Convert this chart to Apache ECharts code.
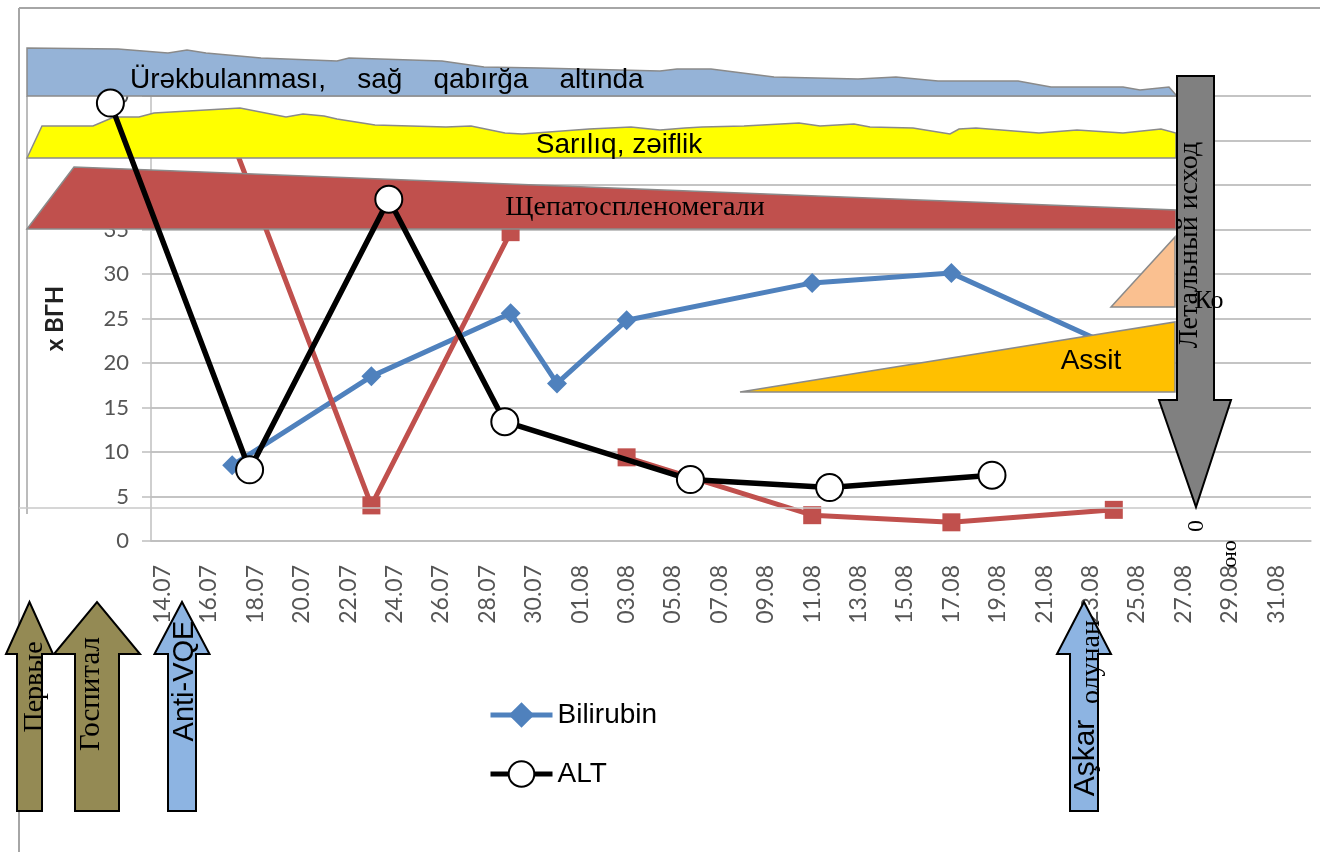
<!DOCTYPE html>
<html><head><meta charset="utf-8">
<script src="https://cdn.jsdelivr.net/npm/echarts@6/dist/echarts.min.js"></script>
<style>html,body{margin:0;padding:0;background:#fff}#c{width:1320px;height:852px}</style>
</head><body><div id="c"></div>
<script>
// ---- data ----
const categories = ['14.07','15.07','16.07','17.07','18.07','19.07','20.07','21.07','22.07','23.07','24.07','25.07','26.07','27.07','28.07','29.07','30.07','31.07',
 '01.08','02.08','03.08','04.08','05.08','06.08','07.08','08.08','09.08','10.08','11.08','12.08','13.08','14.08','15.08','16.08','17.08','18.08','19.08','20.08',
 '21.08','22.08','23.08','24.08','25.08','26.08','27.08','28.08','29.08','30.08','31.08','01.09'];
const yTicks = [0,5,10,15,20,25,30,35,40,45,50];

const bilirubinDates  = ['17.07','23.07','29.07','31.07','03.08','11.08','17.08','24.08'];
const bilirubinValues = [8.5, 18.5, 25.6, 17.7, 24.8, 29.0, 30.1, 21.8];

const redDatesA  = ['17.07','23.07','29.07'];
const redValuesA = [45, 4.0, 34.7];
const redDatesB  = ['03.08','11.08','17.08','24.08'];
const redValuesB = [9.4, 2.9, 2.1, 3.5];

// ALT: day offsets from 14.07 (drawn on its own, slightly shifted overlay axis)
const altDays   = [-3, 3, 9, 14, 22, 28, 35];
const altValues = [49.2, 8.0, 38.4, 13.4, 6.9, 6.0, 7.4];

// ---- layout ----
const W = 1320, H = 852;
const gLeft = 151, gRight = 9, gTop = 96, gBottom = 311;
const dayW = (W - gLeft - gRight) / categories.length;
const altShift = 0.75, altMin = -5;
const g2Left = gLeft + (0.5 + altShift + altMin) * dayW;
const altMax = altMin + (W - gRight - g2Left) / dayW;

const pair = (d, v) => d.map((x, i) => [x, v[i]]);

const SANS = '"Liberation Sans", Arial, sans-serif';
const SERIF = '"Liberation Serif", "Times New Roman", serif';
const AX = 'Lato, "Open Sans", sans-serif';

function upArrow(cx, sh, hh, tip, base, bottom, fill) {
  return { type: 'polygon', z: 70,
    shape: { points: [[cx-sh,bottom],[cx-sh,base],[cx-hh,base],[cx,tip],[cx+hh,base],[cx+sh,base],[cx+sh,bottom]] },
    style: { fill: fill, stroke: '#000', lineWidth: 2 } };
}
function txt(x, y, s, font, rot, z) {
  return { type: 'text', x: x, y: y, rotation: rot || 0, z: z || 80,
    style: { text: s, font: font, fill: '#000', textAlign: 'center', textVerticalAlign: 'middle', verticalAlign: 'middle' } };
}
const bandStyle = (fill) => ({ fill: fill, stroke: '#8a8a8a', lineWidth: 1.5 });

const blueTop = [[27,48],[118,49],[168,53],[187,50],[206,53],[261,58],[337,61],[349,58],[442,61],[484,67],[539,68],[660,71],[677,69],[711,69],[774,77],[858,79],[896,77],[938,81],[1018,81],[1051,87],[1123,87],[1140,90],[1169,87],[1176,95]];
const yellowTop = [[42,126],[93,126],[114,117],[139,117],[154,113],[240,108],[286,117],[303,114],[324,116],[337,119],[375,125],[446,127],[471,126],[505,133],[522,134],[589,129],[631,127],[660,130],[685,128],[702,127],[744,126],[799,123],[820,126],[854,124],[870,127],[913,128],[950,134],[959,129],[976,128],[1039,133],[1077,130],[1123,133],[1161,129],[1176,133]];

const graphics = [
  // frame lines
  { type: 'line', z: 40, shape: { x1: 19, y1: 8, x2: 1320, y2: 8 }, style: { stroke: '#a6a6a6', lineWidth: 2 } },
  { type: 'line', z: 40, shape: { x1: 19, y1: 8, x2: 19, y2: 852 }, style: { stroke: '#a6a6a6', lineWidth: 2 } },
  { type: 'line', z: 40, shape: { x1: 27, y1: 96, x2: 27, y2: 514 }, style: { stroke: '#a6a6a6', lineWidth: 1.5 } },
  { type: 'line', z: 40, shape: { x1: 19, y1: 508, x2: 1311, y2: 508 }, style: { stroke: '#c8c8c8', lineWidth: 1.5 } },
  // bands
  { type: 'polygon', z: 50, shape: { points: [[27,96]].concat(blueTop, [[1176,96]]) }, style: bandStyle('#95B3D7') },
  { type: 'polygon', z: 50, shape: { points: [[27,158]].concat(yellowTop, [[1176,158]]) }, style: bandStyle('#FFFF00') },
  { type: 'polygon', z: 50, shape: { points: [[27,229],[74,167],[1176,210],[1176,229]] }, style: bandStyle('#C0504D') },
  { type: 'polygon', z: 50, shape: { points: [[1111,307],[1175,237],[1175,307]] }, style: bandStyle('#FAC090') },
  { type: 'polygon', z: 50, shape: { points: [[740,392],[1175,322],[1175,392]] }, style: bandStyle('#FFC000') },
  // band texts
  { type: 'text', x: 130, y: 80, z: 55, style: { text: 'Ürəkbulanması,    sağ    qabırğa    altında', font: '28px ' + SANS, fill: '#000', textAlign: 'left', textVerticalAlign: 'middle', verticalAlign: 'middle' } },
  txt(619, 145, 'Sarılıq, zəiflik', '28px ' + SANS, 0, 55),
  txt(635, 208, 'Щепатоспленомегали', '28px ' + SERIF, 0, 55),
  txt(1091, 361, 'Assit', '28px ' + SANS, 0, 55),
  // down arrow
  { type: 'polygon', z: 70, shape: { points: [[1177,76],[1214,76],[1214,400],[1231,400],[1196,507],[1159,400],[1177,400]] }, style: { fill: '#808080', stroke: '#000', lineWidth: 2 } },
  txt(1190, 245, 'Летальный исход', '28px ' + SERIF, Math.PI / 2, 80),
  txt(1209, 301, 'Ко', '26px ' + SERIF, 0, 82),
  txt(1197, 526, '0', '24px ' + SERIF, Math.PI / 2, 80),
  txt(1232, 554, 'ою', '22px ' + SERIF, -Math.PI / 2, 80),
  // bottom arrows
  upArrow(29.5, 12.5, 23.5, 602, 654, 811, '#948A54'),
  upArrow(97, 22, 43, 602, 654, 811, '#948A54'),
  upArrow(182, 14, 27.5, 602, 654, 811, '#8DB4E2'),
  upArrow(1084, 14, 27, 602, 654, 811, '#8DB4E2'),
  txt(35, 687, 'Первые', '28px ' + SERIF, Math.PI / 2),
  txt(91, 694, 'Госпитал', '29px ' + SERIF, Math.PI / 2),
  txt(185, 681, 'Anti-VQE', '29px ' + SANS, Math.PI / 2),
  txt(1086, 758, 'Aşkar', '30px ' + SANS, Math.PI / 2),
  txt(1092, 662, 'олунан', '28px ' + SERIF, Math.PI / 2)
];

const chart = echarts.init(document.getElementById('c'), null, { renderer: 'canvas' });
chart.setOption({
  animation: false,
  backgroundColor: '#fff',
  grid: [
    { left: gLeft, right: gRight, top: gTop, bottom: gBottom },
    { left: g2Left, right: gRight, top: gTop, bottom: gBottom }
  ],
  xAxis: [
    { type: 'category', gridIndex: 0, data: categories, boundaryGap: true,
      axisLine: { show: true, lineStyle: { color: '#bfbfbf', width: 1.5 } },
      axisTick: { show: false },
      axisLabel: { rotate: 90, interval: 1, margin: 24, fontSize: 23, fontFamily: AX, color: '#555' },
      splitLine: { show: false } },
    { type: 'value', gridIndex: 1, min: altMin, max: altMax, show: false, splitLine: { show: false } }
  ],
  yAxis: [
    { type: 'value', gridIndex: 0, min: yTicks[0], max: yTicks[yTicks.length - 1], interval: 5,
      name: 'x ВГН', nameLocation: 'middle', nameRotate: 90, nameGap: 84,
      nameTextStyle: { fontSize: 24, fontWeight: 'bold', fontFamily: AX, color: '#222' },
      axisLine: { show: true, lineStyle: { color: '#bfbfbf', width: 1.5 } },
      axisTick: { show: true, length: 9, lineStyle: { color: '#bfbfbf', width: 1.5 } },
      axisLabel: { margin: 22, fontSize: 22, fontFamily: AX, color: '#555' },
      splitLine: { show: true, lineStyle: { color: '#c4c4c4', width: 2 } } },
    { type: 'value', gridIndex: 1, min: 0, max: 50, show: false, splitLine: { show: false } }
  ],
  legend: {
    data: ['Bilirubin', 'ALT'], orient: 'vertical', left: 483, top: 696,
    itemWidth: 62, itemHeight: 32, itemGap: 31,
    lineStyle: { width: 5 },
    textStyle: { fontSize: 28, fontFamily: SANS, color: '#000' }
  },
  series: [
    { name: 'Bilirubin', type: 'line', xAxisIndex: 0, yAxisIndex: 0, z: 2,
      data: pair(bilirubinDates, bilirubinValues), showAllSymbol: true,
      symbol: 'diamond', symbolSize: 20, itemStyle: { color: '#4F81BD' },
      lineStyle: { color: '#4F81BD', width: 5 } },
    { name: 'Series 3', type: 'line', xAxisIndex: 0, yAxisIndex: 0, z: 2,
      data: pair(redDatesA, redValuesA), showAllSymbol: true,
      symbol: 'rect', symbolSize: 18, itemStyle: { color: '#C0504D' },
      lineStyle: { color: '#C0504D', width: 5 } },
    { name: 'Series 3', type: 'line', xAxisIndex: 0, yAxisIndex: 0, z: 2,
      data: pair(redDatesB, redValuesB), showAllSymbol: true,
      symbol: 'rect', symbolSize: 18, itemStyle: { color: '#C0504D' },
      lineStyle: { color: '#C0504D', width: 5 } },
    { name: 'ALT', type: 'line', xAxisIndex: 1, yAxisIndex: 1, z: 60, clip: false,
      data: pair(altDays, altValues), showAllSymbol: true,
      symbol: 'circle', symbolSize: 27,
      itemStyle: { color: '#fff', borderColor: '#000', borderWidth: 2 },
      lineStyle: { color: '#000', width: 5.5 } }
  ],
  graphic: { elements: graphics }
});
</script>
</body></html>
